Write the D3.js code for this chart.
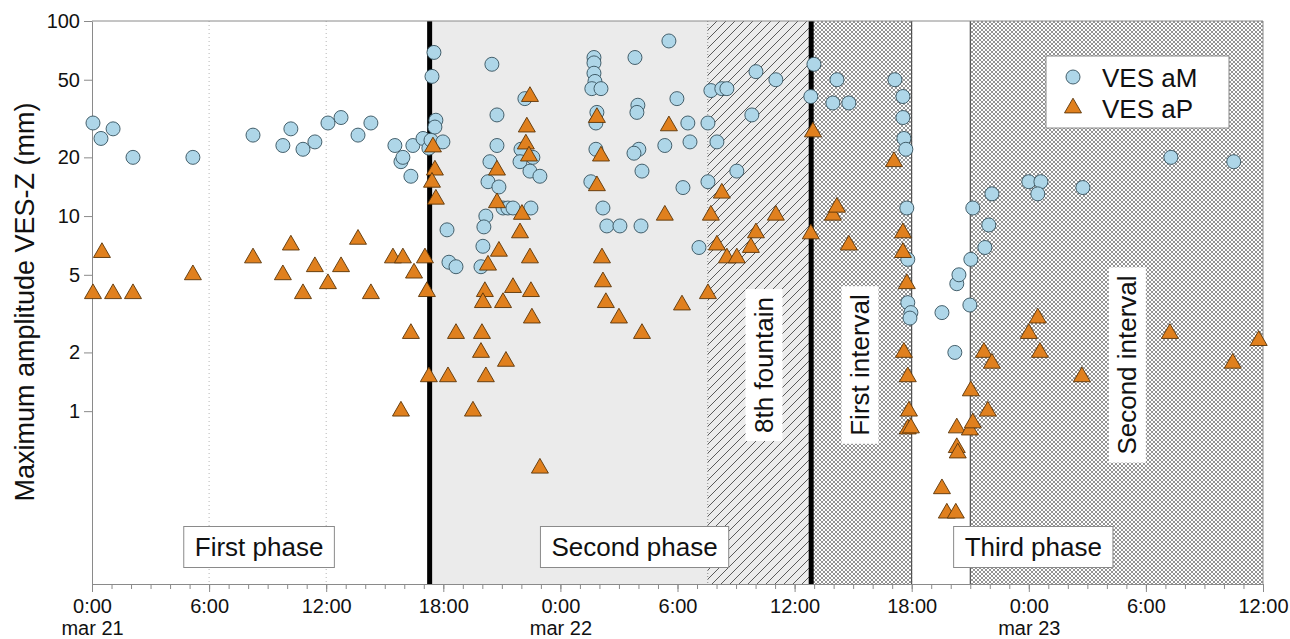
<!DOCTYPE html>
<html lang="en">
<head>
<meta charset="utf-8">
<title>VES-Z maximum amplitude</title>
<script src="https://d3js.org/d3.v7.min.js"></script>
<style>
  body { margin: 0; background: #fff; }
  svg { display: block; font-family: "Liberation Sans", Arial, Helvetica, sans-serif; }
  .axis text { font-size: 20px; fill: #111; font-family: "Liberation Sans", Arial, sans-serif; }
  .axis path, .axis line { stroke: #8a8a8a; }
  .big { font-size: 26px; fill: #111; }
  .ytitle { font-size: 27px; fill: #111; }
</style>
</head>
<body>
<svg width="1290" height="639"></svg>
<script>
// hours since mar 21 0:00, amplitude (mm)
const vesAM = [
  [0.05,30],[0.46,25],[1.08,28],[2.1,20],[5.17,20],[8.25,26],[9.78,23],[10.19,28],[10.81,22],[11.42,24],
  [12.09,30],[12.76,32],[13.63,26],[14.29,30],[15.52,23],[15.83,19],[15.93,20],[16.34,16],[16.44,23],[16.96,25],
  [17.26,22.3],[17.37,24.5],[17.52,69],[17.42,52],[17.62,31],[17.57,28.6],[17.98,24],[18.19,8.5],[18.29,5.8],[18.65,5.5],
  [20.49,60],[20.75,33],[20.75,23],[20.39,19],[20.29,15],[20.85,14.1],[20.18,10],[20.08,8.8],[20.03,7],[19.93,5.5],
  [21.06,11],[21.31,11],[21.57,11],[22.49,11],[22.18,40],[21.98,22],[21.93,19],[22.59,20],[22.44,17],[22.95,16],
  [25.72,65],[25.72,61],[25.72,54],[25.77,49],[25.61,45],[26.08,45],[25.87,34],[25.82,30],[25.82,22],[25.56,15],
  [26.18,11],[26.38,8.9],[27.05,8.9],[28.13,8.9],[27.82,65],[27.97,37],[27.92,34],[28.02,22],[27.77,21],[28.18,17],
  [29.56,79],[29.97,40],[29.35,23],[30.53,30],[30.64,24],[30.28,14],[31.1,6.9],[31.56,30],[31.56,15],[31.71,44],
  [32.27,45],[32.53,45],[32.02,24],[33.04,17],[34.02,55],[35.04,50],[33.81,33],[36.99,60],[36.83,41],[38.17,50],
  [37.96,38],[38.78,38],[41.14,50],[41.55,41],[41.55,32],[41.6,25],[41.7,22],[41.75,11],[41.8,6],[41.8,3.6],
  [41.96,3.2],[41.91,3.0],[43.55,3.2],[44.21,2.0],[44.31,4.5],[44.42,5.0],[45.03,6.0],[44.98,3.5],[45.13,11],[45.75,6.9],
  [45.95,9],[46.11,13],[48.0,15],[48.62,15],[48.46,13],[50.77,14],[55.28,20],[58.5,19]
];
const vesAP = [
  [0.51,6.5],[0.05,4],[1.08,4],[2.1,4],[5.17,5],[8.25,6.1],[9.78,5],[10.19,7.1],[10.81,4],[11.42,5.5],
  [12.09,4.5],[12.76,5.5],[13.63,7.6],[14.29,4],[15.42,6.1],[15.93,6.1],[16.5,5.1],[17.06,6.1],[17.16,4.1],[16.34,2.5],
  [15.83,1.0],[17.26,1.5],[17.47,22.6],[17.57,17.2],[17.42,14.9],[17.62,12.2],[18.24,1.5],[18.65,2.5],[19.52,1.0],
  [22.44,41],[22.28,28.6],[22.23,23.4],[22.39,20.3],[20.75,17.2],[20.75,11.7],[22.03,10.2],[21.93,8.2],[20.85,6.6],[22.44,6.1],
  [20.29,5.6],[20.13,4.1],[20.03,3.6],[21.06,3.6],[21.57,4.3],[22.49,4.1],[22.54,3.0],[19.98,2.5],[19.93,2.0],[21.21,1.8],
  [20.18,1.5],[22.95,0.51],[25.87,32],[26.08,20.3],[25.87,14.3],[26.13,6.1],[26.18,4.6],[26.33,3.6],[27.0,3.0],[28.18,2.5],
  [29.56,29],[29.35,10.1],[30.23,3.5],[31.56,4.0],[31.71,10.1],[32.27,13.1],[32.02,7.1],[32.53,6.1],[33.04,6.1],[34.02,8.2],
  [33.76,6.9],[35.04,10.1],[36.94,27],[36.83,8.1],[37.96,10.1],[38.17,11.1],[38.78,7.1],[41.09,19],[41.55,8.2],[41.55,6.5],
  [41.75,4.5],[41.6,2.0],[41.8,1.5],[41.86,1.0],[41.8,0.81],[41.96,0.82],[43.55,0.40],[43.8,0.30],[44.26,0.30],[44.31,0.82],
  [44.31,0.65],[44.36,0.61],[45.03,1.27],[44.98,0.80],[45.13,0.87],[45.7,2.0],[46.11,1.76],[45.9,1.0],[48.0,2.5],[48.46,3.0],
  [48.57,2.0],[50.72,1.5],[55.23,2.5],[58.45,1.76],[59.78,2.3]
];

const yTicks = [1, 2, 5, 10, 20, 50, 100];
const xMajor = [0, 6, 12, 18, 24, 30, 36, 42, 48, 54, 60];
const xTickLabels = ["0:00","6:00","12:00","18:00","0:00","6:00","12:00","18:00","0:00","6:00","12:00"];
const dayLabels = ["mar 21", "", "", "", "mar 22", "", "", "", "mar 23", "", ""];

// shaded intervals (hours)
const spans = [
  { from: 17.3, to: 31.55, fill: "#ebebeb" },
  { from: 31.55, to: 36.85, fill: "url(#diag)" },
  { from: 36.85, to: 42, fill: "url(#cross)" },
  { from: 45, to: 60, fill: "url(#cross)" }
];
const thickLines = [17.3, 36.85];
const thinLines = [42, 45];

const phaseLabels = [
  { text: "First phase", h: 8.56 },
  { text: "Second phase", h: 27.8 },
  { text: "Third phase", h: 48.23 }
];
const intervalLabels = [
  { text: "8th fountain", h: 34.43 },
  { text: "First interval", h: 39.35 },
  { text: "Second interval", h: 53.05 }
];

const svg = d3.select("svg");
const margin = { left: 92, right: 27, top: 21, bottom: 55 };
const W = 1290, H = 639;

const x = d3.scaleLinear().domain([0, 60]).range([margin.left, W - margin.right]);
const y = d3.scaleLog().domain([0.13, 100]).range([H - margin.bottom, margin.top]);

const defs = svg.append("defs");
const diag = defs.append("pattern").attr("id", "diag")
  .attr("patternUnits", "userSpaceOnUse").attr("width", 9).attr("height", 9);
diag.append("rect").attr("width", 9).attr("height", 9).attr("fill", "#ececec");
diag.append("path").attr("d", "M-2,2 L2,-2 M0,9 L9,0 M7,11 L11,7")
  .attr("stroke", "#4a4a4a").attr("stroke-width", 0.9);

const cross = defs.append("pattern").attr("id", "cross")
  .attr("patternUnits", "userSpaceOnUse").attr("width", 4).attr("height", 4);
cross.append("rect").attr("width", 4).attr("height", 4).attr("fill", "#fff");
cross.append("path").attr("d", "M0,0 L4,4 M4,0 L0,4")
  .attr("stroke", "#666").attr("stroke-width", 0.7);

const yTop = y.range()[1], yBottom = y.range()[0];

// dotted grid
svg.append("g").selectAll("line").data(xMajor.slice(1, -1)).join("line")
  .attr("x1", d => x(d)).attr("x2", d => x(d))
  .attr("y1", yTop).attr("y2", yBottom)
  .attr("stroke", "#b5b5b5").attr("stroke-dasharray", "1,3");

svg.append("g").selectAll("rect").data(spans).join("rect")
  .attr("x", d => x(d.from)).attr("width", d => x(d.to) - x(d.from))
  .attr("y", yTop).attr("height", yBottom - yTop)
  .attr("fill", d => d.fill);

// dotted edge of the fountain band
svg.append("line")
  .attr("x1", x(31.55)).attr("x2", x(31.55)).attr("y1", yTop).attr("y2", yBottom)
  .attr("stroke", "#888").attr("stroke-dasharray", "1,2");

svg.append("g").selectAll("line").data(thinLines).join("line")
  .attr("x1", d => x(d)).attr("x2", d => x(d)).attr("y1", yTop).attr("y2", yBottom)
  .attr("stroke", "#333").attr("stroke-width", 1);

svg.append("g").selectAll("line").data(thickLines).join("line")
  .attr("x1", d => x(d)).attr("x2", d => x(d)).attr("y1", yTop).attr("y2", yBottom)
  .attr("stroke", "#000").attr("stroke-width", 5);

// frame top/right
svg.append("path")
  .attr("d", `M${x(0)},${yTop} H${x(60)} V${yBottom}`)
  .attr("fill", "none").attr("stroke", "#8a8a8a");

// axes
svg.append("g").attr("class", "axis")
  .attr("transform", `translate(${x(0)},0)`)
  .call(d3.axisLeft(y).tickValues(yTicks).tickFormat(d3.format("d")).tickSize(8).tickSizeOuter(0).tickPadding(4));

svg.append("g").attr("class", "axis")
  .attr("transform", `translate(0,${yBottom})`)
  .call(d3.axisBottom(x).tickValues(d3.range(0, 61)).tickSize(5).tickSizeOuter(0).tickFormat(""));

const xAxis = svg.append("g").attr("class", "axis")
  .attr("transform", `translate(0,${yBottom})`)
  .call(d3.axisBottom(x).tickValues(xMajor).tickSize(8).tickSizeOuter(0).tickFormat(""));
xAxis.selectAll(".tick").append("text")
  .attr("fill", "#111").attr("text-anchor", "middle")
  .each(function(d, i) {
    const t = d3.select(this);
    t.append("tspan").attr("x", 0).attr("y", 29).text(xTickLabels[i]);
    if (dayLabels[i]) t.append("tspan").attr("x", 0).attr("y", 51).text(dayLabels[i]);
  });

svg.append("text").attr("class", "ytitle")
  .attr("transform", `translate(34,302) rotate(-90)`)
  .attr("text-anchor", "middle")
  .text("Maximum amplitude VES-Z (mm)");

// points
const tri = d3.symbol().type(d3.symbolTriangle).size(125);

svg.append("g").selectAll("circle").data(vesAM).join("circle")
  .attr("cx", d => x(d[0])).attr("cy", d => y(d[1])).attr("r", 7)
  .attr("fill", "#aed6e8").attr("stroke", "#34505c").attr("stroke-width", 0.9);

svg.append("g").selectAll("path").data(vesAP).join("path")
  .attr("d", tri)
  .attr("transform", d => `translate(${x(d[0])},${y(d[1])})`)
  .attr("fill", "#e0801e").attr("stroke", "#5a3408").attr("stroke-width", 0.9);

// phase label boxes
const phaseG = svg.append("g").selectAll("g").data(phaseLabels).join("g")
  .attr("transform", d => `translate(${x(d.h)},547)`);
phaseG.append("rect");
phaseG.append("text").attr("class", "big")
  .attr("text-anchor", "middle").attr("dy", "0.35em").text(d => d.text);
phaseG.each(function() {
  const g = d3.select(this);
  const b = g.select("text").node().getBBox();
  g.select("rect").attr("x", b.x - 11).attr("width", b.width + 22)
    .attr("y", -20.5).attr("height", 41)
    .attr("fill", "#fff").attr("stroke", "#8a8a8a");
});

// rotated interval labels
const intG = svg.append("g").selectAll("g").data(intervalLabels).join("g")
  .attr("transform", d => `translate(${x(d.h)},365) rotate(-90)`);
intG.append("rect");
intG.append("text").attr("class", "big")
  .attr("text-anchor", "middle").attr("dy", "0.35em").text(d => d.text);
intG.each(function() {
  const g = d3.select(this);
  const b = g.select("text").node().getBBox();
  g.select("rect").attr("x", b.x - 8).attr("width", b.width + 16)
    .attr("y", -18.5).attr("height", 37).attr("fill", "#fff");
});

// legend
const lg = svg.append("g").attr("transform", "translate(1046,56)");
lg.append("rect").attr("width", 183).attr("height", 72)
  .attr("fill", "#fff").attr("stroke", "#8a8a8a");
lg.append("circle").attr("cx", 27).attr("cy", 21).attr("r", 7)
  .attr("fill", "#aed6e8").attr("stroke", "#34505c").attr("stroke-width", 0.9);
lg.append("path").attr("d", tri).attr("transform", "translate(27,52)")
  .attr("fill", "#e0801e").attr("stroke", "#5a3408").attr("stroke-width", 0.9);
lg.append("text").attr("class", "big").attr("x", 56).attr("y", 31).text("VES aM");
lg.append("text").attr("class", "big").attr("x", 56).attr("y", 62).text("VES aP");
</script>
</body>
</html>
